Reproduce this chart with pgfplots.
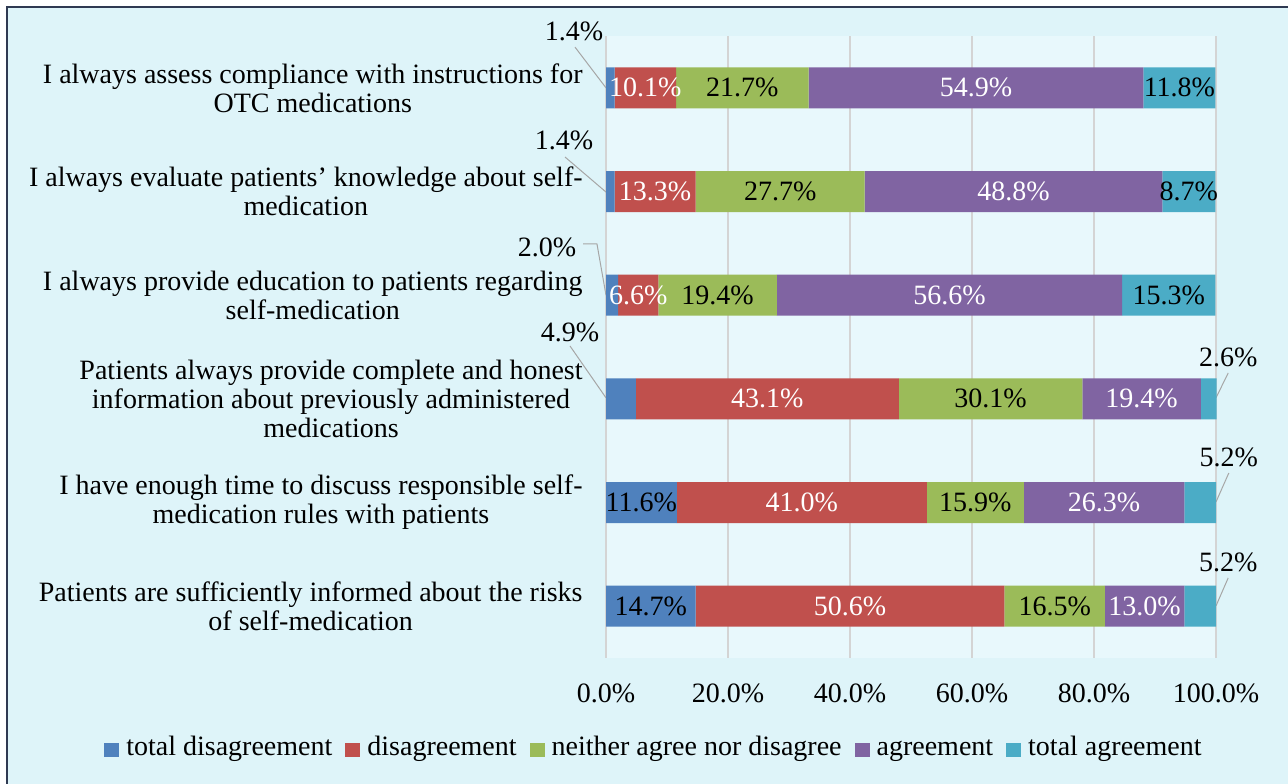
\documentclass[border=0pt]{standalone}
\usepackage{pgfplots}
\pgfplotsset{compat=1.18}
\usepackage{fontspec}
\setmainfont{Liberation Serif}
\definecolor{outerbg}{HTML}{DEF4F9}
\definecolor{plotbg}{HTML}{E8F8FC}
\definecolor{framec}{HTML}{2F3A52}
\definecolor{gridc}{HTML}{D4D4D4}
\definecolor{leaderc}{HTML}{A6A6A6}
\definecolor{cA}{HTML}{4F81BD}
\definecolor{cB}{HTML}{C0504D}
\definecolor{cC}{HTML}{9BBB59}
\definecolor{cD}{HTML}{8064A2}
\definecolor{cE}{HTML}{4BACC6}
\newcommand{\lbfont}{\fontsize{14}{14.5}\selectfont}
\tikzset{lab/.style={font=\lbfont, inner sep=0pt},
         wlab/.style={font=\lbfont, inner sep=0pt, text=white},
         lead/.style={draw=leaderc, line width=0.5pt}}
\begin{document}
\begin{tikzpicture}
\path[use as bounding box] (0,0) rectangle (644pt,-391.5pt);
\fill[white] (0,0) rectangle (644pt,-391.5pt);
\fill[outerbg] (3.5pt,-3.5pt) rectangle (650pt,-400pt);
\draw[framec, line width=1pt] (3.5pt,-400pt) -- (3.5pt,-3.5pt) -- (650pt,-3.5pt);
\begin{axis}[
  at={(303pt,-329pt)}, anchor=south west,
  scale only axis, width=305pt, height=311pt,
  xbar stacked, bar width=20.5pt,
  y dir=reverse,
  xmin=0, xmax=100, ymin=-0.5, ymax=5.5,
  axis background/.style={fill=plotbg},
  axis line style={draw=none},
  major tick length=0pt,
  xmajorgrids, grid style={gridc, line width=0.6pt},
  xtick={0,20,40,60,80,100},
  xticklabels={0.0\%,20.0\%,40.0\%,60.0\%,80.0\%,100.0\%},
  xticklabel style={font=\lbfont, anchor=center, yshift=-17.5pt},
  ytick={0,1,2,3,4,5},
  yticklabels={
    {I always assess compliance with instructions for\\OTC medications},
    {I always evaluate patients’ knowledge about self-\\medication},
    {I always provide education to patients regarding\\self-medication},
    {Patients always provide complete and honest\\information about previously administered\\medications},
    {I have enough time to discuss responsible self-\\medication rules with patients},
    {Patients are sufficiently informed about the risks\\of self-medication}},
  yticklabel style={font=\lbfont, align=center, anchor=east, inner sep=0pt, xshift=-11.5pt},
  clip=false,
  legend columns=5,
  legend style={at={(0.077,-0.1495)}, anchor=center, draw=none, fill=none,
    font=\lbfont, inner sep=0pt,
    /tikz/every odd column/.append style={column sep=3.5pt},
    /tikz/every even column/.append style={column sep=6.5pt},
    nodes={inner sep=0pt, text height=0.68em, text depth=0.22em}},
  legend image code/.code={\fill[#1] (0pt,-3.2pt) rectangle (7.5pt,3.8pt);},
]
\addplot[fill=cA, draw=none] coordinates {(1.4,0) (1.4,1) (2.0,2) (4.9,3) (11.6,4) (14.7,5)};
\addplot[fill=cB, draw=none] coordinates {(10.1,0) (13.3,1) (6.6,2) (43.1,3) (41.0,4) (50.6,5)};
\addplot[fill=cC, draw=none] coordinates {(21.7,0) (27.7,1) (19.4,2) (30.1,3) (15.9,4) (16.5,5)};
\addplot[fill=cD, draw=none] coordinates {(54.9,0) (48.8,1) (56.6,2) (19.4,3) (26.3,4) (13.0,5)};
\addplot[fill=cE, draw=none] coordinates {(11.8,0) (8.7,1) (15.3,2) (2.6,3) (5.2,4) (5.2,5)};
\legend{total disagreement, disagreement, neither agree nor disagree, agreement, total agreement}
\coordinate (a1) at (axis cs:6.45,0);
\coordinate (a2) at (axis cs:22.35,0);
\coordinate (a3) at (axis cs:60.65,0);
\coordinate (a4) at (axis cs:94.0,0);
\coordinate (b1) at (axis cs:8.05,1);
\coordinate (b2) at (axis cs:28.55,1);
\coordinate (b3) at (axis cs:66.8,1);
\coordinate (b4) at (axis cs:95.55,1);
\coordinate (c1) at (axis cs:5.3,2);
\coordinate (c2) at (axis cs:18.3,2);
\coordinate (c3) at (axis cs:56.3,2);
\coordinate (c4) at (axis cs:92.25,2);
\coordinate (d1) at (axis cs:26.45,3);
\coordinate (d2) at (axis cs:63.05,3);
\coordinate (d3) at (axis cs:87.8,3);
\coordinate (e0) at (axis cs:5.8,4);
\coordinate (e1) at (axis cs:32.1,4);
\coordinate (e2) at (axis cs:60.55,4);
\coordinate (e3) at (axis cs:81.65,4);
\coordinate (f0) at (axis cs:7.35,5);
\coordinate (f1) at (axis cs:40.0,5);
\coordinate (f2) at (axis cs:73.55,5);
\coordinate (f3) at (axis cs:88.3,5);
\node[lab] at (axis cs:-5.25,-0.548) {1.4\%};
\node[lab] at (axis cs:-6.89,0.503) {1.4\%};
\node[lab] at (axis cs:-9.67,1.535) {2.0\%};
\node[lab] at (axis cs:-5.9,2.355) {4.9\%};
\node[lab] at (axis cs:102.0,2.596) {2.6\%};
\node[lab] at (axis cs:102.1,3.56) {5.2\%};
\node[lab] at (axis cs:102.0,4.582) {5.2\%};
\draw[lead] (axis cs:-5.08,-0.393) -- (axis cs:0,0);
\draw[lead] (axis cs:-6.72,0.667) -- (axis cs:0,1.005);
\draw[lead] (axis cs:-3.77,1.506) -- (axis cs:-1.48,1.506) -- (axis cs:0,2.0);
\draw[lead] (axis cs:-5.9,2.49) -- (axis cs:0,2.99);
\draw[lead] (axis cs:102,2.75) -- (axis cs:100,2.99);
\draw[lead] (axis cs:102.1,3.715) -- (axis cs:100,3.994);
\draw[lead] (axis cs:102,4.727) -- (axis cs:100,4.997);
\end{axis}
\node[wlab] at (a1) {10.1\%};
\node[lab] at (a2) {21.7\%};
\node[wlab] at (a3) {54.9\%};
\node[lab] at (a4) {11.8\%};
\node[wlab] at (b1) {13.3\%};
\node[lab] at (b2) {27.7\%};
\node[wlab] at (b3) {48.8\%};
\node[lab] at (b4) {8.7\%};
\node[wlab] at (c1) {6.6\%};
\node[lab] at (c2) {19.4\%};
\node[wlab] at (c3) {56.6\%};
\node[lab] at (c4) {15.3\%};
\node[wlab] at (d1) {43.1\%};
\node[lab] at (d2) {30.1\%};
\node[wlab] at (d3) {19.4\%};
\node[lab] at (e0) {11.6\%};
\node[wlab] at (e1) {41.0\%};
\node[lab] at (e2) {15.9\%};
\node[wlab] at (e3) {26.3\%};
\node[lab] at (f0) {14.7\%};
\node[wlab] at (f1) {50.6\%};
\node[lab] at (f2) {16.5\%};
\node[wlab] at (f3) {13.0\%};
\end{tikzpicture}
\end{document}
